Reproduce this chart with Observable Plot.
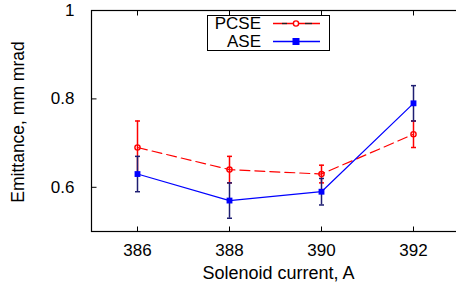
<!DOCTYPE html>
<html>
<head>
<meta charset="utf-8">
<script src="https://cdn.jsdelivr.net/npm/d3@7"></script>
<script src="https://cdn.jsdelivr.net/npm/@observablehq/plot@0.6"></script>
<style>
  html, body { margin: 0; padding: 0; background: #fff; }
  #wrap { position: relative; width: 456px; height: 290px; overflow: hidden; font-family: "Liberation Sans", Arial, sans-serif; }
  #legend { position: absolute; left: 207px; top: 15px; width: 123px; height: 36px; border: 1px solid #000; background: #fff; box-sizing: border-box; }
  #legend .row { position: absolute; left: 0; height: 17px; width: 100%; }
  #legend .lab { position: absolute; right: 68px; top: 0; font-size: 17px; line-height: 17px; color: #000; }
  #legend svg { position: absolute; left: 65px; top: 0; }
</style>
</head>
<body>
<div id="wrap"></div>
<script>
const currents = [386, 388, 390, 392];
const pcse = [0.69, 0.64, 0.63, 0.72];
const pcseErr = [0.06, 0.03, 0.02, 0.03];
const ase = [0.63, 0.57, 0.59, 0.79];
const aseErr = [0.04, 0.04, 0.03, 0.04];
const xTicks = [386, 388, 390, 392];
const yTicks = [0.6, 0.8, 1];
const yTickLabels = ["0.6", "0.8", "1"];
const seriesNames = ["PCSE", "ASE"];

const red = "#ff0000", blue = "#0000ff", navy = "#1e1e72";
const P = currents.map((x, i) => ({x, y: pcse[i], lo: pcse[i] - pcseErr[i], hi: pcse[i] + pcseErr[i]}));
const A = currents.map((x, i) => ({x, y: ase[i], lo: ase[i] - aseErr[i], hi: ase[i] + aseErr[i]}));

const cap = {draw(ctx) { ctx.moveTo(-2.5, 0); ctx.lineTo(2.5, 0); }};
const hTick = {draw(ctx) { ctx.moveTo(0, 0); ctx.lineTo(5, 0); }};
const vTickUp = {draw(ctx) { ctx.moveTo(0, 0); ctx.lineTo(0, -5); }};
const vTickDown = {draw(ctx) { ctx.moveTo(0, 0); ctx.lineTo(0, 5); }};

const font = "Liberation Sans, Arial, sans-serif";
const chart = Plot.plot({
  width: 456, height: 290,
  marginLeft: 91, marginRight: -3, marginTop: 10, marginBottom: 59,
  style: {fontFamily: font, fontSize: "17px", color: "#000", background: "#fff"},
  x: {domain: [385, 393]},
  y: {domain: [0.5, 1]},
  marks: [
    // inward tick marks
    Plot.dot(xTicks, {x: d => d, frameAnchor: "bottom", symbol: vTickUp, stroke: "#000", strokeWidth: 1, r: 5}),
    Plot.dot(xTicks, {x: d => d, frameAnchor: "top", symbol: vTickDown, stroke: "#000", strokeWidth: 1, r: 5}),
    Plot.dot(yTicks, {y: d => d, frameAnchor: "left", symbol: hTick, stroke: "#000", strokeWidth: 1, r: 5}),
    Plot.axisX(xTicks, {tickSize: 0, tickPadding: 12, tickFormat: d => String(d), fontSize: 17, label: null}),
    Plot.axisY(yTicks, {tickSize: 0, tickPadding: 17, tickFormat: (d, i) => yTickLabels[i], fontSize: 17, label: null}),
    Plot.text(["Solenoid current, A"], {frameAnchor: "bottom", dy: 42, dx: 3, lineAnchor: "middle", fontSize: 18}),
    Plot.text(["Emittance, mm mrad"], {frameAnchor: "left", dx: -73, dy: 1, rotate: -90, lineAnchor: "middle", textAnchor: "middle", fontSize: 17.5}),
    // PCSE
    Plot.lineY(P, {x: "x", y: "y", stroke: red, strokeWidth: 1.2, strokeDasharray: "10,5"}),
    Plot.ruleX(P, {x: "x", y1: "lo", y2: "hi", stroke: red, strokeWidth: 1.5}),
    Plot.dot(P, {x: "x", y: "lo", symbol: cap, stroke: red, strokeWidth: 1.5, r: 3}),
    Plot.dot(P, {x: "x", y: "hi", symbol: cap, stroke: red, strokeWidth: 1.5, r: 3}),
    Plot.dot(P, {x: "x", y: "y", r: 2.6, stroke: red, strokeWidth: 1.4, fill: "none"}),
    // ASE
    Plot.lineY(A, {x: "x", y: "y", stroke: blue, strokeWidth: 1.2}),
    Plot.ruleX(A, {x: "x", y1: "lo", y2: "hi", stroke: navy, strokeWidth: 1.5}),
    Plot.dot(A, {x: "x", y: "lo", symbol: cap, stroke: navy, strokeWidth: 1.5, r: 3}),
    Plot.dot(A, {x: "x", y: "hi", symbol: cap, stroke: navy, strokeWidth: 1.5, r: 3}),
    Plot.dot(A, {x: "x", y: "y", symbol: "square", r: 3.3, fill: blue, stroke: "none"}),
    Plot.frame({stroke: "#000", strokeWidth: 1.2})
  ]
});
const wrap = document.getElementById("wrap");
wrap.appendChild(chart);

// legend
const legend = document.createElement("div");
legend.id = "legend";
const samples = [
  `<line x1="0" x2="47" y1="8.5" y2="8.5" stroke="${red}" stroke-width="1.3"/>
   <line x1="9" x2="14" y1="8.5" y2="8.5" stroke="#222" stroke-width="1.3"/>
   <line x1="32" x2="39" y1="8.5" y2="8.5" stroke="#222" stroke-width="1.3"/>
   <circle cx="23" cy="8.5" r="2.6" fill="#fff" stroke="${red}" stroke-width="1.4"/>`,
  `<line x1="0" x2="47" y1="8.5" y2="8.5" stroke="${blue}" stroke-width="1.4"/>
   <rect x="19.5" y="5" width="7" height="7" fill="${blue}"/>`
];
seriesNames.forEach((name, i) => {
  const row = document.createElement("div");
  row.className = "row";
  row.style.top = (i === 0 ? -1 : 17) + "px";
  row.innerHTML = `<span class="lab">${name}</span><svg width="50" height="17">${samples[i]}</svg>`;
  legend.appendChild(row);
});
wrap.appendChild(legend);
</script>
</body>
</html>
